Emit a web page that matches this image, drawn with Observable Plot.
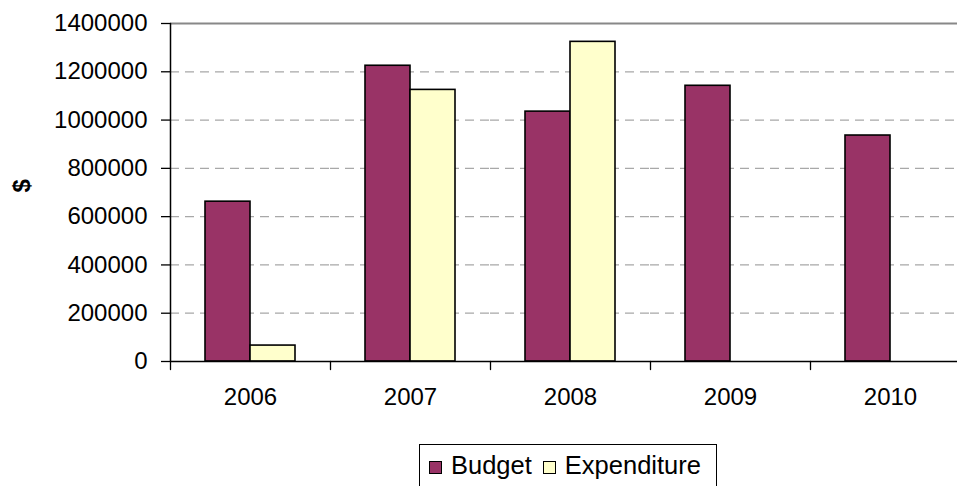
<!DOCTYPE html>
<html>
<head>
<meta charset="utf-8">
<script src="https://cdn.jsdelivr.net/npm/d3@7"></script>
<script src="https://cdn.jsdelivr.net/npm/@observablehq/plot@0.6"></script>
<style>
  html, body { margin: 0; padding: 0; background: #fff; overflow: hidden; width: 957px; height: 486px; }
  body { position: relative; font-family: Arial, "Liberation Sans", sans-serif; }
  #chart svg { overflow: hidden; }
  #legend { position: absolute; left: 419px; top: 444px; width: 298px; height: 50px; border: 1px solid #000; box-sizing: border-box;
            display: flex; align-items: flex-start; padding-top: 5px; padding-left: 9px; font-size: 25.5px; color: #000; }
  .sw { display: inline-block; width: 11px; height: 11px; border: 1.5px solid #000; margin-right: 9px; margin-top: 11px; }
  .item { display: flex; align-items: flex-start; margin-right: 11px; line-height: 30px; }
</style>
</head>
<body>
<div id="chart"></div>
<div id="legend"></div>
<script>
const years = ["2006", "2007", "2008", "2009", "2010"];
const series = ["Budget", "Expenditure"];
const budget = [662000, 1225000, 1035000, 1142000, 936000];
const expenditure = [66000, 1125000, 1324000, null, null];
const colors = ["#993366", "#FFFFCC"];
const yTicks = [0, 200000, 400000, 600000, 800000, 1000000, 1200000, 1400000];
const yLabel = "$";

const data = [];
years.forEach((yr, i) => {
  data.push({year: yr, series: series[0], value: budget[i]});
  if (expenditure[i] != null) data.push({year: yr, series: series[1], value: expenditure[i]});
});

const spike = {draw(context, l) { context.moveTo(0, 0); context.lineTo(0, -l); }};

const chart = Plot.plot({
  width: 957,
  height: 420,
  marginLeft: 170,
  marginRight: -13,
  marginTop: 23,
  marginBottom: 59,
  style: {fontFamily: "Arial, 'Liberation Sans', sans-serif", fontSize: "24px", color: "#000", background: "#fff", overflow: "hidden"},
  fx: {domain: years, padding: 0, label: null},
  x: {domain: series, paddingInner: 0, paddingOuter: 0.74, axis: null},
  y: {domain: [0, 1400000], axis: null},
  color: {domain: series, range: colors},
  marks: [
    Plot.gridY(yTicks.slice(1, -1), {stroke: "#a8a8a8", strokeOpacity: 1, strokeWidth: 1.2, strokeDasharray: "9,6"}),
    Plot.ruleY([yTicks[yTicks.length - 1]], {stroke: "#888", strokeWidth: 2}),
    Plot.barY(data, {fx: "year", x: "series", y: "value", fill: "series", stroke: "#000", strokeWidth: 1.6}),
    Plot.ruleY([0], {stroke: "#000", strokeWidth: 1.5}),
    Plot.vector(years, {fx: d => d, frameAnchor: "bottom-left", length: 8, rotate: 180, anchor: "start", shape: spike, stroke: "#000", strokeWidth: 1.3}),
    Plot.vector([yLabel], {fx: d => years[0], frameAnchor: "bottom-left", length: 338, rotate: 0, anchor: "start", shape: spike, stroke: "#000", strokeWidth: 1.5}),
    Plot.axisY(yTicks, {tickSize: 9, tickPadding: 14, tickFormat: d3.format("d"), label: null, fontSize: 24, stroke: "#000", strokeWidth: 1.3}),
    Plot.axisFx({anchor: "bottom", tickSize: 0, tickPadding: 26, label: null, fontSize: 24}),
    Plot.text([yLabel], {fx: d => years[0], frameAnchor: "left", dx: -148, rotate: -90, fontWeight: "bold", fontSize: 24, text: d => d})
  ]
});
document.getElementById("chart").appendChild(chart);

const legend = document.getElementById("legend");
series.forEach((s, i) => {
  const item = document.createElement("div");
  item.className = "item";
  const sw = document.createElement("span");
  sw.className = "sw";
  sw.style.background = colors[i];
  item.appendChild(sw);
  item.appendChild(document.createTextNode(s));
  legend.appendChild(item);
});
</script>
</body>
</html>
